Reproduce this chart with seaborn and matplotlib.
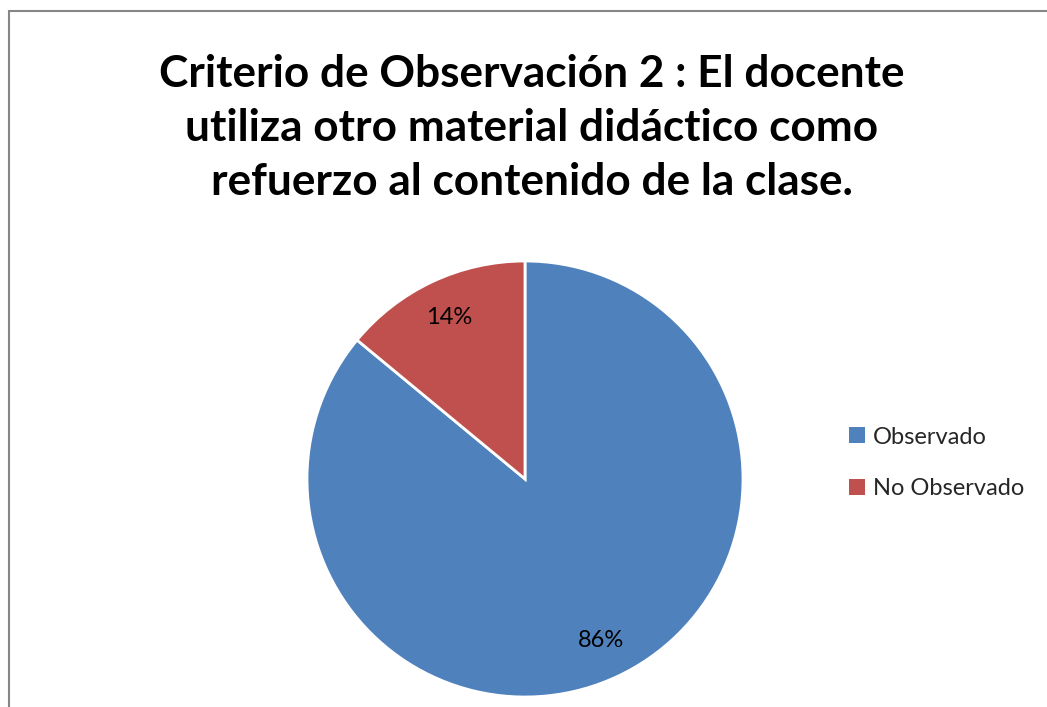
import matplotlib
matplotlib.use('Agg')
import matplotlib.pyplot as plt
import seaborn as sns
from matplotlib.patches import Rectangle, Patch

# ============================
# Data
# ============================
categorias = ['Observado', 'No Observado']
porcentajes = [86, 14]
colores = ['#4F81BD', '#C0504D']
titulo = ('Criterio de Observación 2 : El docente\n'
          'utiliza otro material didáctico como\n'
          'refuerzo al contenido de la clase.')

# ============================
# Style
# ============================
sns.set_theme(style='white')
plt.rcParams['font.family'] = ['Lato', 'DejaVu Sans']

W, H = 1047, 707
fig = plt.figure(figsize=(W / 100, H / 100), dpi=100)
fig.patch.set_facecolor('white')

# chart border (right and bottom edges fall outside the image)
fig.patches.append(Rectangle((9 / W, -0.2), 1.2, 0.2 + (H - 11) / H, transform=fig.transFigure,
                             fill=False, edgecolor='#868686', linewidth=1.5, zorder=0))

# title
fig.text(532 / W, 1 - 128 / H, titulo, ha='center', va='center', fontsize=31.8,
         fontweight='bold', color='black', linespacing=1.42)

# pie
cx, cy, r = 525, 479, 218
ax = fig.add_axes([(cx - r) / W, (H - cy - r) / H, 2 * r / W, 2 * r / H])
wedges, texts, autotexts = ax.pie(porcentajes, colors=sns.color_palette(colores),
                                  startangle=90, counterclock=False,
                                  autopct='%1.0f%%', pctdistance=0.82,
                                  wedgeprops=dict(edgecolor='white', linewidth=2),
                                  textprops=dict(fontsize=17, color='black'))
ax.set_xlim(-1.0, 1.0)
ax.set_ylim(-1.0, 1.0)
ax.set_aspect('equal')
ax.axis('off')

# legend
handles = [Patch(facecolor=c, edgecolor='none') for c in colores]
fig.legend(handles, categorias, loc='center left', bbox_to_anchor=(828 / W, 1 - 463 / H),
           frameon=False, fontsize=17, handlelength=0.65, handleheight=0.65,
           handletextpad=0.35, labelspacing=1.3)

plt.savefig('out.png', dpi=100)
